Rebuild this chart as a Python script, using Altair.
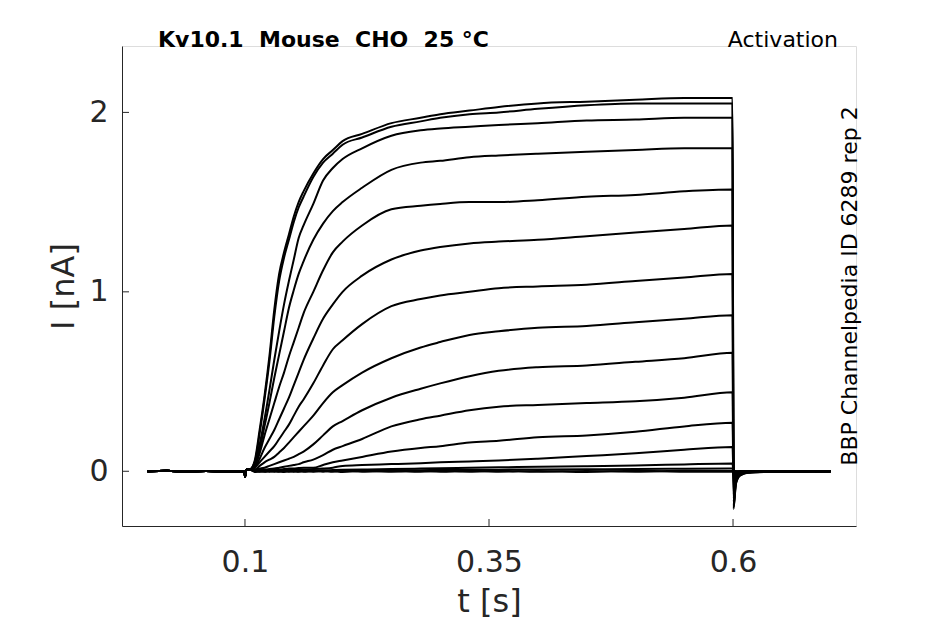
import altair as alt
import pandas as pd

# ---- data ----
NB = "\u00a0"
TITLE_LEFT = f"Kv10.1{NB} Mouse{NB} CHO{NB} 25 °C"
TITLE_RIGHT = "Activation"
SIDE_TEXT = "BBP Channelpedia ID 6289 rep 2"
X_TITLE = "t [s]"
Y_TITLE = "I [nA]"
X_TICKS = [0.1, 0.35, 0.6]
Y_TICKS = [0, 1, 2]

# shared holding / pre-step baseline
TIME_PRE = [0.0, 0.02, 0.04, 0.06, 0.08, 0.0995, 0.1, 0.1015, 0.105]
I_PRE = [0.0, 0.003, -0.003, 0.002, -0.002, 0.0, -0.03, 0.008, 0.01]

# test pulse part
TIME_STEP = [0.11, 0.115, 0.12, 0.125, 0.13, 0.135, 0.14, 0.145, 0.15, 0.155,
             0.16, 0.17, 0.18, 0.19, 0.2, 0.22, 0.25, 0.28, 0.3, 0.33,
             0.36, 0.4, 0.45, 0.5, 0.55, 0.5995]
# after the step back
TIME_TAIL = [0.6005, 0.603, 0.607, 0.615, 0.65, 0.7]

T1 = [0.06, 0.23, 0.42, 0.64, 0.90, 1.10, 1.22, 1.32, 1.42, 1.50, 1.56, 1.66, 1.74, 1.79, 1.84, 1.88, 1.94, 1.97, 1.99, 2.01, 2.03, 2.05, 2.06, 2.07, 2.08, 2.08]
T2 = [0.05, 0.21, 0.40, 0.61, 0.86, 1.06, 1.19, 1.29, 1.39, 1.47, 1.53, 1.64, 1.72, 1.77, 1.82, 1.86, 1.92, 1.95, 1.97, 1.99, 2.00, 2.02, 2.04, 2.05, 2.05, 2.05]
T3 = [0.05, 0.15, 0.29, 0.45, 0.62, 0.78, 0.93, 1.06, 1.18, 1.30, 1.37, 1.49, 1.62, 1.69, 1.74, 1.80, 1.87, 1.90, 1.91, 1.92, 1.93, 1.94, 1.955, 1.96, 1.97, 1.97]
T4 = [0.04, 0.12, 0.25, 0.38, 0.52, 0.65, 0.78, 0.91, 1.01, 1.10, 1.17, 1.29, 1.38, 1.45, 1.50, 1.58, 1.68, 1.72, 1.73, 1.75, 1.76, 1.77, 1.78, 1.79, 1.80, 1.80]
T5 = [0.03, 0.10, 0.20, 0.29, 0.38, 0.47, 0.55, 0.64, 0.72, 0.80, 0.88, 1.00, 1.12, 1.22, 1.28, 1.37, 1.46, 1.48, 1.49, 1.50, 1.50, 1.51, 1.53, 1.54, 1.56, 1.57]
T6 = [0.02, 0.07, 0.13, 0.18, 0.23, 0.29, 0.35, 0.41, 0.48, 0.55, 0.62, 0.74, 0.85, 0.93, 1.00, 1.09, 1.18, 1.23, 1.25, 1.27, 1.28, 1.29, 1.31, 1.33, 1.35, 1.37]
T7 = [0.02, 0.05, 0.08, 0.11, 0.14, 0.18, 0.22, 0.26, 0.31, 0.36, 0.40, 0.49, 0.59, 0.68, 0.73, 0.82, 0.92, 0.96, 0.98, 1.00, 1.02, 1.03, 1.04, 1.06, 1.08, 1.10]
T8 = [0.01, 0.03, 0.05, 0.065, 0.08, 0.105, 0.13, 0.16, 0.19, 0.22, 0.25, 0.31, 0.38, 0.44, 0.48, 0.55, 0.63, 0.69, 0.72, 0.76, 0.78, 0.80, 0.81, 0.83, 0.85, 0.87]
T9 = [0.01, 0.015, 0.02, 0.03, 0.04, 0.05, 0.06, 0.07, 0.08, 0.095, 0.11, 0.15, 0.20, 0.25, 0.28, 0.34, 0.41, 0.46, 0.49, 0.53, 0.56, 0.58, 0.59, 0.61, 0.63, 0.66]
T10 = [0.005, 0.01, 0.01, 0.012, 0.015, 0.02, 0.025, 0.03, 0.035, 0.04, 0.05, 0.065, 0.09, 0.12, 0.14, 0.18, 0.25, 0.29, 0.31, 0.34, 0.36, 0.37, 0.38, 0.39, 0.41, 0.44]
T11 = [0.0, 0.005, 0.005, 0.008, 0.01, 0.01, 0.012, 0.015, 0.015, 0.018, 0.02, 0.02, 0.035, 0.05, 0.06, 0.08, 0.11, 0.13, 0.14, 0.16, 0.17, 0.19, 0.20, 0.22, 0.25, 0.27]
T12 = [0.0, 0.0, 0.0, 0.003, 0.005, 0.005, 0.006, 0.008, 0.008, 0.01, 0.01, 0.012, 0.015, 0.02, 0.03, 0.035, 0.04, 0.045, 0.05, 0.055, 0.06, 0.07, 0.085, 0.10, 0.12, 0.135]
T13 = [0.0, 0.0, 0.0, 0.0, 0.0, 0.0, 0.0, 0.0, 0.0, 0.0, 0.003, 0.005, 0.005, 0.007, 0.008, 0.01, 0.012, 0.015, 0.017, 0.02, 0.022, 0.025, 0.028, 0.032, 0.038, 0.043]
T14 = [0.0, 0.0, 0.0, 0.0, 0.0, 0.0, 0.0, 0.0, 0.0, 0.0, 0.0, 0.0, 0.002, 0.002, 0.003, 0.004, 0.005, 0.006, 0.007, 0.008, 0.009, 0.01, 0.011, 0.012, 0.014, 0.015]
T15 = [0.003, -0.003, 0.002, -0.002, 0.003, -0.003, 0.002, -0.002, 0.003, -0.003, 0.002, -0.002, 0.003, -0.003, 0.002, -0.002, 0.003, -0.003, 0.002, -0.002, 0.003, -0.003, 0.002, -0.002, 0.003, 0.002]
T16 = [-0.004, 0.002, -0.003, 0.003, -0.002, 0.002, -0.004, 0.003, -0.002, 0.002, -0.003, 0.003, -0.002, 0.002, -0.004, 0.003, -0.002, 0.002, -0.003, 0.003, -0.002, 0.002, -0.004, 0.003, -0.002, -0.003]

TAIL1 = [-0.21, -0.07, -0.025, -0.008, 0.0, 0.0]
TAIL2 = [-0.20, -0.065, -0.024, -0.007, 0.002, 0.0]
TAIL3 = [-0.19, -0.06, -0.022, -0.007, -0.002, 0.0]
TAIL4 = [-0.17, -0.055, -0.02, -0.006, 0.002, 0.0]
TAIL5 = [-0.15, -0.05, -0.018, -0.005, -0.002, 0.0]
TAIL6 = [-0.13, -0.045, -0.016, -0.005, 0.002, 0.0]
TAIL7 = [-0.11, -0.04, -0.014, -0.004, -0.002, 0.0]
TAIL8 = [-0.09, -0.035, -0.012, -0.004, 0.002, 0.0]
TAIL9 = [-0.07, -0.03, -0.01, -0.003, -0.002, 0.0]
TAIL10 = [-0.05, -0.022, -0.008, -0.003, 0.002, 0.0]
TAIL11 = [-0.035, -0.016, -0.006, -0.002, -0.002, 0.0]
TAIL12 = [-0.02, -0.01, -0.004, -0.002, 0.002, 0.0]
TAIL13 = [-0.01, -0.005, -0.002, 0.0, -0.002, 0.0]
TAIL14 = [-0.005, -0.003, -0.001, 0.0, 0.002, 0.0]
TAIL15 = [0.0, 0.002, -0.002, 0.0, -0.002, 0.0]
TAIL16 = [0.0, -0.002, 0.002, 0.0, 0.002, 0.0]

STEPS = [T1, T2, T3, T4, T5, T6, T7, T8, T9, T10, T11, T12, T13, T14, T15, T16]
TAILS = [TAIL1, TAIL2, TAIL3, TAIL4, TAIL5, TAIL6, TAIL7, TAIL8, TAIL9, TAIL10,
         TAIL11, TAIL12, TAIL13, TAIL14, TAIL15, TAIL16]

rows = []
for k, (step, tail) in enumerate(zip(STEPS, TAILS)):
    times = TIME_PRE + TIME_STEP + TIME_TAIL
    vals = I_PRE + step + tail
    for t, v in zip(times, vals):
        rows.append({"trace": k, "t": t, "I": v})
df = pd.DataFrame(rows)

INK = "#262626"
FONT = "DejaVu Sans"
W, H = 734, 480

xscale = alt.Scale(domain=[-0.026, 0.726], nice=False, zero=False)
yscale = alt.Scale(domain=[-0.305, 2.37], nice=False, zero=False)

lines = alt.Chart(df).mark_line(color="black", strokeWidth=2, interpolate="monotone").encode(
    x=alt.X("t:Q", scale=xscale,
            axis=alt.Axis(values=X_TICKS, format="~g", title=X_TITLE, ticks=False,
                          grid=False, domainColor=INK, labelColor=INK,
                          labelFont=FONT, labelFontSize=30, labelPadding=21,
                          titleFont=FONT, titleFontSize=32, titleFontWeight="normal",
                          titleColor=INK, titlePadding=9)),
    y=alt.Y("I:Q", scale=yscale,
            axis=alt.Axis(values=Y_TICKS, format="d", title=Y_TITLE, ticks=False,
                          grid=False, domainColor=INK, labelColor=INK,
                          labelFont=FONT, labelFontSize=30, labelPadding=14,
                          titleFont=FONT, titleFontSize=32, titleFontWeight="normal",
                          titleColor=INK, titlePadding=8)),
    detail="trace:N",
)

xt = alt.Chart(pd.DataFrame({"v": X_TICKS})).mark_rule(color=INK, strokeWidth=1).encode(
    x=alt.X("v:Q", scale=xscale), y=alt.value(H), y2=alt.value(H - 7))
yt = alt.Chart(pd.DataFrame({"v": Y_TICKS})).mark_rule(color=INK, strokeWidth=1).encode(
    y=alt.Y("v:Q", scale=yscale), x=alt.value(0), x2=alt.value(7))

t_left = alt.Chart(pd.DataFrame({"s": [TITLE_LEFT]})).mark_text(
    font=FONT, fontSize=22, fontWeight="bold", color="black", align="left",
    baseline="alphabetic").encode(text="s:N", x=alt.value(36), y=alt.value(1))
t_right = alt.Chart(pd.DataFrame({"s": [TITLE_RIGHT]})).mark_text(
    font=FONT, fontSize=22, color="black", align="right",
    baseline="alphabetic").encode(text="s:N", x=alt.value(716), y=alt.value(1))
t_side = alt.Chart(pd.DataFrame({"s": [SIDE_TEXT]})).mark_text(
    font=FONT, fontSize=22, color="black", align="center", angle=270,
    baseline="alphabetic").encode(text="s:N", x=alt.value(735), y=alt.value(H / 2))

chart = alt.layer(lines, xt, yt, t_left, t_right, t_side).properties(
    width=W, height=H,
    autosize=alt.AutoSizeParams(type="none"),
    padding={"left": 114, "top": 38, "right": 80, "bottom": 96},
).configure_view(stroke=None).configure(background="white")

chart.save("out.html", embed_options={"renderer": "svg", "actions": False})
